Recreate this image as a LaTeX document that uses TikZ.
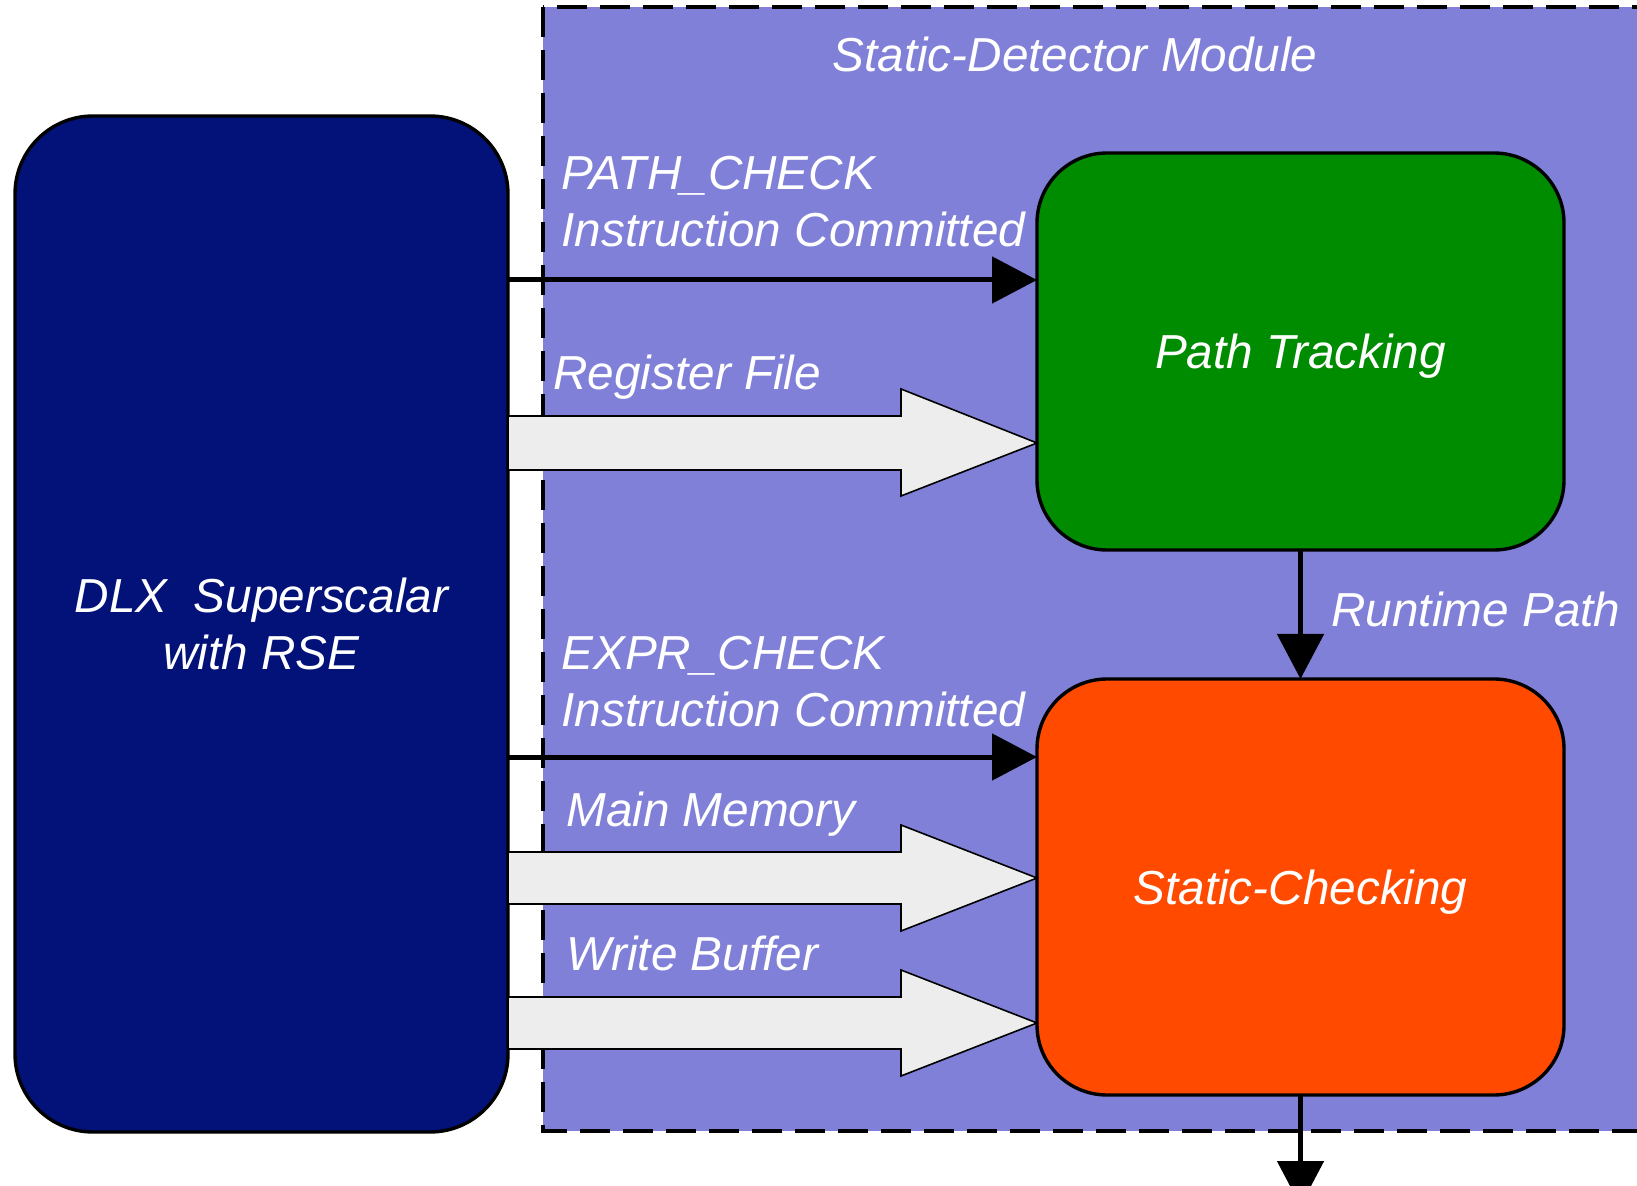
\documentclass[tikz,border=0pt]{standalone}
\usepackage{fontspec}
\setmainfont{Liberation Sans}
\usetikzlibrary{arrows.meta}
\definecolor{modfill}{RGB}{128,128,216}
\definecolor{dlxfill}{RGB}{2,18,120}
\definecolor{ptfill}{RGB}{0,140,0}
\definecolor{scfill}{RGB}{255,74,0}
\definecolor{bafill}{RGB}{237,237,237}
\begin{document}
\begin{tikzpicture}[x=0.5pt,y=-0.5pt,
  txt/.style={text=white,font=\fontsize{23.85}{28.7}\selectfont\itshape},
  lbl/.style={txt,inner sep=0pt,anchor=base west},
  box/.style={txt,draw=black,line width=1.7pt,rounded corners=35pt,inner sep=0pt,outer sep=0pt,align=center},
  conn/.style={line width=2.5pt,-{Triangle[length=22.5pt,width=23pt]}},
  blockarrow/.style={draw=black,line width=0.8pt,fill=bafill,line join=miter},
  modstyle/.style={draw=black,fill=modfill,line width=2.2pt,dash pattern=on 15pt off 6.5pt}]
\useasboundingbox (0,0) rectangle (1637,1186);
\clip (0,0) rectangle (1637,1186);
% module background
\draw[modstyle] (543,7) rectangle (1720,1131);
\node[txt,inner sep=0pt,anchor=base] (title) at (1075,72) {Static-Detector Module};
% main blocks
\node[box,fill=dlxfill,minimum width=246.5pt,minimum height=508pt,rounded corners=39pt] (dlx) at (261.5,624) {DLX\ \ Superscalar\\with RSE};
\node[box,fill=ptfill,minimum width=263.5pt,minimum height=198.5pt,text depth=0pt] (pt) at (1300.5,351.5) {Path Tracking};
\node[box,fill=scfill,minimum width=263.5pt,minimum height=208pt,text depth=0pt] (sc) at (1300.5,887) {Static-Checking};
% signal arrows
\draw[conn] (dlx.east |- 0,280) -- (pt.west |- 0,280);
\draw[conn] (dlx.east |- 0,757) -- (sc.west |- 0,757);
\draw[conn] (pt.south) -- (sc.north);
\coordinate (out) at (1300.5,1206);
\draw[conn] (sc.south) -- (out);
% block arrows
\draw[blockarrow] (dlx.east |- 0,416) -- (901,416) -- (901,389) -- (pt.west |- 0,443) -- (901,496) -- (901,470) -- (dlx.east |- 0,470) -- cycle;
\draw[blockarrow] (dlx.east |- 0,852) -- (901,852) -- (901,825) -- (sc.west |- 0,878) -- (901,931) -- (901,904) -- (dlx.east |- 0,904) -- cycle;
\draw[blockarrow] (dlx.east |- 0,997) -- (901,997) -- (901,970) -- (sc.west |- 0,1023) -- (901,1076) -- (901,1049) -- (dlx.east |- 0,1049) -- cycle;
% labels
\node[lbl] (l1) at (561,190) {PATH\_CHECK};
\node[lbl] (l2) at (561,247) {Instruction Committed};
\node[lbl] (l3) at (553,390) {Register File};
\node[lbl] (l4) at (1331,626) {Runtime Path};
\node[lbl] (l5) at (561,669) {EXPR\_CHECK};
\node[lbl] (l6) at (561,726) {Instruction Committed};
\node[lbl] (l7) at (566,826) {Main Memory};
\node[lbl] (l8) at (566,970) {Write Buffer};
\end{tikzpicture}
\end{document}
